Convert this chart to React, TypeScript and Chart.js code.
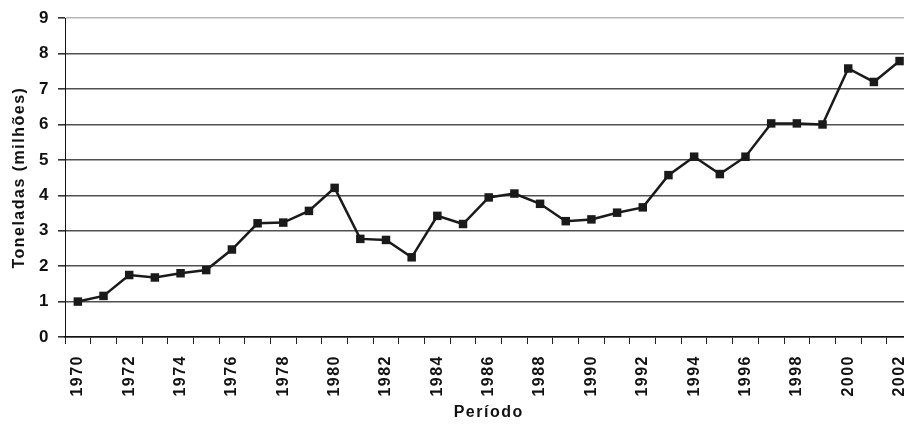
import React, { useEffect, useRef } from "react";
import { Chart, registerables } from "chart.js";

Chart.register(...registerables);

const years: string[] = [
  "1970", "1971", "1972", "1973", "1974", "1975", "1976", "1977", "1978", "1979",
  "1980", "1981", "1982", "1983", "1984", "1985", "1986", "1987", "1988", "1989",
  "1990", "1991", "1992", "1993", "1994", "1995", "1996", "1997", "1998", "1999",
  "2000", "2001", "2002",
];

const toneladas: number[] = [
  1.0, 1.16, 1.75, 1.68, 1.8, 1.89, 2.47, 3.21, 3.23, 3.56,
  4.21, 2.77, 2.74, 2.25, 3.42, 3.19, 3.94, 4.05, 3.76, 3.27,
  3.32, 3.51, 3.66, 4.57, 5.09, 4.6, 5.09, 6.03, 6.03, 6.0,
  7.58, 7.2, 7.79,
];

const yTitle = "Toneladas (milhões)";
const xTitle = "Período";

const FONT = "'Liberation Sans', Arial, Helvetica, sans-serif";

const spacingPlugin = {
  id: "letterSpacing",
  beforeUpdate(chart: any) {
    (chart.ctx as any).letterSpacing = "1.5px";
  },
  beforeLayout(chart: any) {
    (chart.ctx as any).letterSpacing = "1.5px";
  },
  beforeDraw(chart: any) {
    (chart.ctx as any).letterSpacing = "1.5px";
  },
};

export default function App() {
  const ref = useRef<HTMLCanvasElement | null>(null);

  useEffect(() => {
    if (!ref.current) return;
    const chart = new Chart(ref.current, {
      type: "line",
      data: {
        labels: years,
        datasets: [
          {
            data: toneladas,
            borderColor: "#1a1a1a",
            backgroundColor: "#1a1a1a",
            borderWidth: 2.5,
            pointStyle: "rect",
            pointRadius: 6,
            pointBorderWidth: 0,
            pointBackgroundColor: "#1a1a1a",
            tension: 0,
            clip: false as any,
          },
        ],
      },
      plugins: [spacingPlugin],
      options: {
        animation: false,
        responsive: false,
        devicePixelRatio: 1,
        layout: { padding: { top: 18, right: 15, left: 0, bottom: 0 } },
        plugins: {
          legend: { display: false },
          tooltip: { enabled: false },
        },
        scales: {
          x: {
            type: "category",
            offset: true,
            afterFit: (s: any) => {
              s.height = 88;
            },
            grid: {
              offset: true,
              drawOnChartArea: false,
              drawTicks: true,
              tickLength: 7,
              color: "#222",
              lineWidth: 1,
            },
            border: { display: true, color: "#111", width: 1.5 },
            ticks: {
              autoSkip: false,
              minRotation: 90,
              maxRotation: 90,
              padding: 11,
              color: "#111",
              font: { family: FONT, size: 16, weight: "bold" },
              callback: (_v: any, i: number) => (i % 2 === 0 ? years[i] : ""),
            },
            title: {
              display: true,
              text: xTitle,
              color: "#111",
              font: { family: FONT, size: 16, weight: "bold" },
              padding: { top: 0, bottom: 3 },
            },
          },
          y: {
            min: 0,
            max: 9,
            afterFit: (s: any) => {
              s.width = 65;
            },
            grid: {
              color: (c: any) => (c.tick && c.tick.value === 9 ? "#b5b5b5" : "#505050"),
              lineWidth: 1.6,
              tickLength: 7,
              tickColor: "#333",
            },
            border: { display: true, color: "#111", width: 1 },
            ticks: {
              stepSize: 1,
              padding: 8,
              color: "#111",
              font: { family: FONT, size: 17, weight: "bold" },
            },
            title: {
              display: true,
              text: yTitle,
              color: "#111",
              font: { family: FONT, size: 16, weight: "bold" },
              padding: { top: 10, bottom: 0 },
            },
          },
        },
      },
    });
    return () => chart.destroy();
  }, []);

  return (
    <div
      style={{
        position: "fixed",
        left: 0,
        top: 0,
        width: 904,
        height: 425,
        overflow: "hidden",
        background: "#fff",
      }}
    >
      <canvas ref={ref} width={930} height={425} style={{ display: "block", width: 930, height: 425 }} />
    </div>
  );
}
